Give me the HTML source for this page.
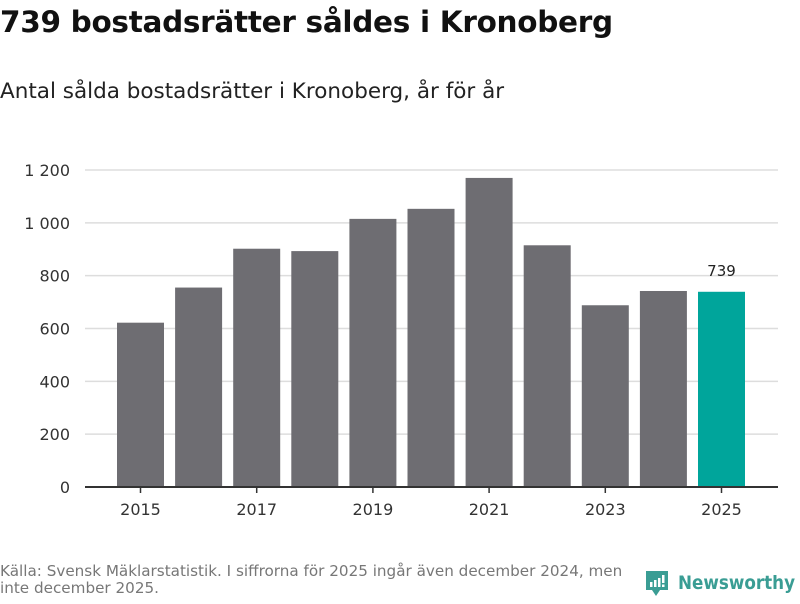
<!DOCTYPE html>
<html><head><meta charset="utf-8"><style>
body{margin:0;width:800px;height:600px;background:#fff;font-family:"DejaVu Sans","Liberation Sans",sans-serif;overflow:hidden;position:relative}
#t{position:absolute;left:0;top:5px;font-size:29.5px;font-weight:bold;color:#111;letter-spacing:-0.3px}
#s{position:absolute;left:0;top:79px;font-size:21.5px;color:#222}
#src{position:absolute;left:0;top:563px;font-size:15.2px;color:#777;line-height:17px;width:645px}
#logo{position:absolute;left:645px;top:570px}
</style></head><body>
<div id="t">739 bostadsrätter såldes i Kronoberg</div>
<div id="s">Antal sålda bostadsrätter i Kronoberg, år för år</div>
<svg id="c" width="800" height="600" style="position:absolute;left:0;top:0"></svg>
<div id="src">Källa: Svensk Mäklarstatistik. I siffrorna för 2025 ingår även december 2024, men inte december 2025.</div>
<div id="logo">
<svg width="155" height="30"><path d="M1 1h22v19h-8l-4 6-4-6H1z" fill="#3a9d94"/><rect x="5" y="12" width="2.5" height="5" fill="#fff"/><rect x="9" y="10" width="2.5" height="7" fill="#fff"/><rect x="13" y="8" width="2.5" height="9" fill="#fff"/><rect x="17" y="5" width="2.5" height="8" fill="#fff"/><rect x="17" y="14.5" width="2.5" height="2.5" fill="#fff"/><text x="33" y="19" font-family="DejaVu Sans,Liberation Sans,sans-serif" font-size="19" font-weight="bold" fill="#3a9d94" textLength="117" lengthAdjust="spacingAndGlyphs">Newsworthy</text></svg>
</div>
<script>
const years=[2015,2016,2017,2018,2019,2020,2021,2022,2023,2024,2025];
const values=[622,755,902,893,1015,1053,1170,915,688,742,739];
const yTicks=[0,200,400,600,800,1000,1200];
const yTickLabels=["0","200","400","600","800","1 000","1 200"];
const xTickYears=[2015,2017,2019,2021,2023,2025];
const ns="http://www.w3.org/2000/svg",svg=document.getElementById('c');
const y0=487,pxPer=317/1200,x0=117,step=58.1,bw=47;
const Y=v=>y0-v*pxPer, X=i=>x0+i*step;
function mk(tag,a,txt){const e=document.createElementNS(ns,tag);for(const k in a)e.setAttribute(k,a[k]);if(txt!==undefined)e.textContent=txt;svg.appendChild(e);return e;}
yTicks.forEach((v,i)=>{
 if(v>0){const g=mk('line',{x1:85,x2:778,y1:Y(v),y2:Y(v),stroke:'#ddd','stroke-width':1.5});
 
 }
 const t=mk('text',{x:70,y:Y(v)+6,'text-anchor':'end','font-size':16,fill:'#333','font-family':'DejaVu Sans,Liberation Sans,sans-serif'},yTickLabels[i]);
 
 
});
years.forEach((yr,i)=>{
 const last=i===years.length-1;
 const r=mk('rect',{x:X(i),y:Y(values[i]),width:bw,height:y0-Y(values[i]),fill:last?'#00a59b':'#6e6d72'});
 
 
 if(last){const l=mk('text',{x:X(i)+bw/2,y:Y(values[i])-16,'text-anchor':'middle','font-size':15,fill:'#222','font-family':'DejaVu Sans,Liberation Sans,sans-serif'},values[i]);
 
 }
 if(xTickYears.includes(yr)){
  const tk=mk('line',{x1:X(i)+bw/2,x2:X(i)+bw/2,y1:y0,y2:y0+6,stroke:'#333','stroke-width':1.5});
  
  
  const t=mk('text',{x:X(i)+bw/2,y:515,'text-anchor':'middle','font-size':16,fill:'#333','font-family':'DejaVu Sans,Liberation Sans,sans-serif'},yr);
  
  
 }
});
const ax=mk('line',{x1:85,x2:778,y1:y0,y2:y0,stroke:'#333','stroke-width':2});


</script>
</body></html>
